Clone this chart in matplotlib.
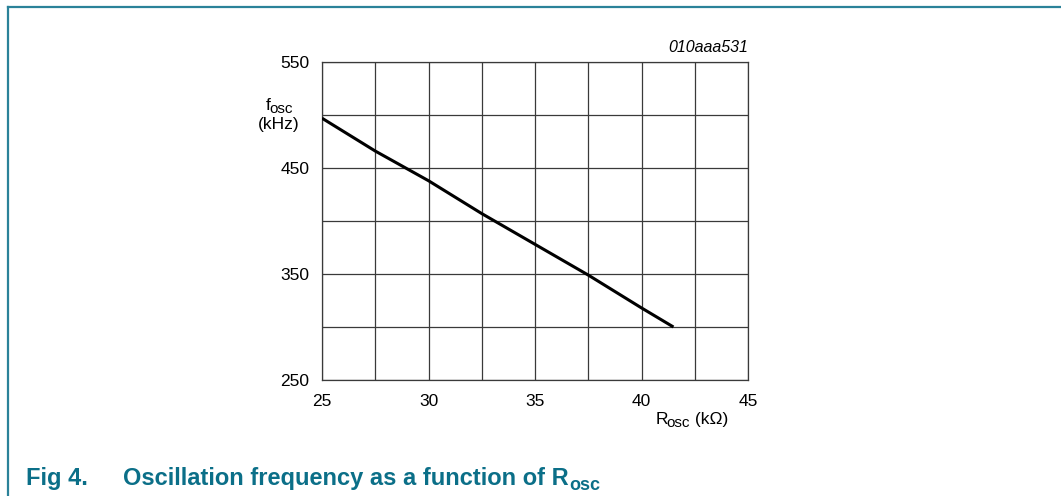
import matplotlib
matplotlib.use("Agg")
import matplotlib.pyplot as plt
from matplotlib.lines import Line2D

plt.rcParams["font.family"] = ["Liberation Sans", "DejaVu Sans"]

# curve
r_osc = [25.0, 27.5, 30.0, 32.5, 35.0, 37.5, 40.0, 41.5]
f_osc = [497, 466, 438, 407, 378, 349, 318, 300]

x_major = [25, 30, 35, 40, 45]
x_minor = [27.5, 32.5, 37.5, 42.5]
y_major = [250, 350, 450, 550]
y_minor = [300, 400, 500]

W, H = 1061, 496
TEAL = "#0b6f88"
GRID = "#3a3a3a"
DESC = 0.212  # Liberation Sans descender, in em


def fx(px):
    return px / W


def fy(py):
    return 1 - py / H


def subscripted(x, y, main, sub, tail="", size=12.5, sub_size=11, drop=2.5, gap=-1.2, **kw):
    # main text, lowered subscript, then tail back on the main baseline
    t = fig.text(fx(x), fy(y), main, ha="left", va="baseline", fontsize=size, **kw)
    s = plt.annotate(sub, xy=(1, 0), xycoords=t, xytext=(gap, size * DESC - drop),
                     textcoords="offset points", ha="left", va="baseline",
                     fontsize=sub_size, annotation_clip=False, **kw)
    if tail:
        plt.annotate(tail, xy=(1, 0), xycoords=(s, t), xytext=(0, size * DESC),
                     textcoords="offset points", ha="left", va="baseline",
                     fontsize=size, annotation_clip=False, **kw)
    return t


fig = plt.figure(figsize=(W / 100, H / 100), dpi=100)

# page frame (left and top rules)
fig.add_artist(Line2D([fx(8), fx(8)], [0, fy(7)], color="#2b8299", lw=1.6))
fig.add_artist(Line2D([fx(8), 1], [fy(7), fy(7)], color="#2b8299", lw=1.6))

ax = fig.add_axes([fx(322), fy(380), 426 / W, 318 / H])
ax.plot(r_osc, f_osc, color="black", lw=2.2, solid_capstyle="butt", zorder=3)

ax.set_xlim(25, 45)
ax.set_ylim(250, 550)
ax.set_xticks(x_major)
ax.set_xticks(x_minor, minor=True)
ax.set_yticks(y_major)
ax.set_yticks(y_minor, minor=True)
ax.tick_params(which="both", length=0, labelsize=12.5)
ax.tick_params(axis="x", pad=10)
ax.tick_params(axis="y", pad=9)
ax.grid(True, which="both", color=GRID, lw=0.9)
for spine in ax.spines.values():
    spine.set_color(GRID)
    spine.set_linewidth(0.9)

# axis titles
subscripted(266, 110, "f", "osc")
fig.text(fx(279), fy(129), "(kHz)", ha="center", va="baseline", fontsize=12.5)
subscripted(656, 424.5, "R", "osc", " (k\u03a9)")

fig.text(fx(748), fy(48), "010aaa531", ha="right", va="center",
         fontsize=11.5, style="italic")

# caption
fig.text(fx(26), fy(484.5), "Fig 4.", ha="left", va="baseline",
         fontsize=17, weight="bold", color=TEAL)
subscripted(123, 484.5, "Oscillation frequency as a function of R", "osc",
            size=17, sub_size=13, drop=4.0, gap=0.3, weight="bold", color=TEAL)

fig.savefig("out.png", dpi=100)
